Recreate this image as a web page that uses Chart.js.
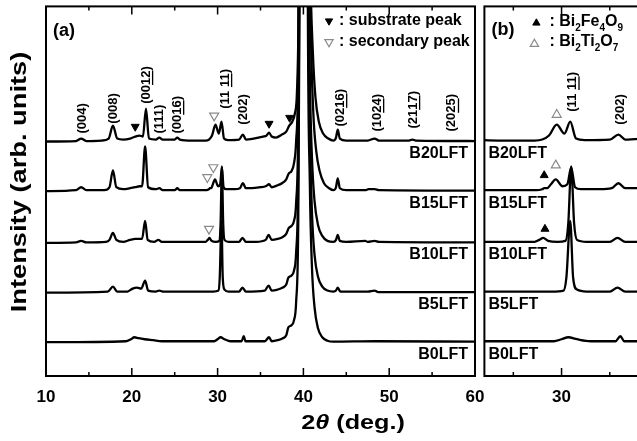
<!DOCTYPE html>
<html>
<head>
<meta charset="utf-8">
<script src="https://cdn.jsdelivr.net/npm/chart.js@4.4.1/dist/chart.umd.min.js"></script>
<style>
    html, body { margin: 0; padding: 0; background: #fff; overflow: hidden; }
    #wrap { position: relative; width: 637px; height: 441px; overflow: hidden; }
    #ca { position: absolute; left: 0; top: 0; }
    #cb { position: absolute; left: 478px; top: 0; }
</style>
</head>
<body>
<div id="wrap">
    <canvas id="ca" width="500" height="441"></canvas>
    <canvas id="cb" width="240" height="441"></canvas>
</div>
<script>
/* ================== DATA ================== */
const samples = ["B20LFT", "B15LFT", "B10LFT", "B5LFT", "B0LFT"];
const offsets = [236, 186, 134, 84, 34];

// [2theta, intensity above own baseline]
const b20 = [[10,0],[13.5,0.5],[14.1,3],[14.7,0.5],[16.5,1],[17.3,3],[17.8,16],[18.3,3],[19,2],[19.8,3],[20.4,5],[20.9,6],[21.3,5],[21.65,33],[22.0,3],[22.8,2],[23.2,4],[23.6,2],[25.0,2],[25.3,4],[25.6,2],[27,1],[28.6,1],[29.0,2],[29.35,6],[29.75,17],[30.15,8],[30.45,20],[30.75,3],[31.2,1.5],[32.5,2],[32.95,7],[33.3,2],[34.2,3],[35.3,5],[35.7,6],[36.0,9],[36.3,5],[36.8,4],[37.5,7],[38.0,10],[38.35,16],[38.7,20],[39.0,28],[39.25,50],[39.45,140],[39.65,450],[39.9,1200],[40.3,1200],[40.55,400],[40.8,180],[41.1,90],[41.4,45],[41.8,20],[42.3,8],[42.9,3],[43.5,1],[43.8,4],[44.0,12],[44.25,3],[45,1],[47.5,1],[48.3,3],[48.8,1],[52.3,1],[52.7,2],[53.1,1],[60,0.5]];
const b15 = [[10,0],[13.5,1],[14.1,4],[14.7,1],[16.8,1],[17.4,4],[17.8,21],[18.2,4],[19,2],[19.8,3],[20.4,4],[20.9,5],[21.2,5],[21.55,45],[21.9,4],[22.8,2],[23.2,3],[23.6,1],[25.0,1],[25.3,3],[25.6,1],[27,1],[28.7,1],[29.0,2],[29.1,3],[29.25,3],[29.45,7],[29.7,12],[30.05,5],[30.3,7],[30.5,24],[30.7,4],[31.0,2],[32,2],[32.6,3],[32.95,8],[33.3,3],[34,3],[35,4],[35.6,5],[36.0,7],[36.3,4],[37,6],[37.5,8],[38.0,12],[38.3,18],[38.6,20],[38.9,28],[39.15,50],[39.4,130],[39.6,450],[39.85,1200],[40.3,1200],[40.55,420],[40.85,170],[41.15,80],[41.5,40],[41.9,20],[42.4,8],[43.0,3],[43.5,1],[43.8,4],[44.0,13],[44.25,3],[45,1],[47.2,1],[47.6,2],[48.3,2],[48.8,1],[60,0.5]];
const b10 = [[10,0],[13.5,0.5],[14.1,2],[14.7,0.5],[17.0,1],[17.4,3],[17.8,10],[18.2,3],[19,1],[19.8,3],[20.4,4],[20.9,4],[21.2,4],[21.55,22],[21.85,3],[22.6,1],[23.1,3],[23.5,1],[25.3,1],[28.6,1],[28.85,3],[29.05,5],[29.3,2],[29.8,1],[30.2,2],[30.35,20],[30.5,77],[30.65,20],[30.8,3],[31.3,1],[32.5,1],[32.9,5],[33.3,1],[34.5,1],[35.6,3],[35.95,8],[36.3,3],[37,4],[37.6,6],[38.0,9],[38.3,15],[38.6,17],[38.9,22],[39.15,40],[39.4,120],[39.6,420],[39.85,1200],[40.3,1200],[40.5,400],[40.75,170],[41.0,85],[41.3,42],[41.7,18],[42.2,7],[42.8,2],[43.5,1],[43.8,3],[44.0,8],[44.25,2],[45,1],[47.2,2],[47.5,1],[48.3,2],[48.8,1],[60,0.5]];
const b5 = [[10,0],[17.2,1],[17.8,6],[18.3,1],[19.5,1],[20.1,4],[20.6,5],[21.1,4],[21.55,12],[21.9,2],[22.8,1],[23.2,2],[23.6,1],[29.5,1],[30.1,2],[30.25,15],[30.45,72],[30.6,15],[30.8,3],[31.3,1],[32.5,1],[32.9,5],[33.3,1],[35.5,2],[35.95,7],[36.3,2],[37,3],[37.6,5],[38.0,8],[38.25,15],[38.6,17],[38.9,22],[39.15,40],[39.4,120],[39.6,420],[39.85,1200],[40.3,1200],[40.5,400],[40.75,170],[41.0,80],[41.3,38],[41.7,16],[42.2,6],[42.8,2],[43.5,1],[43.8,2],[44.0,5],[44.3,1],[47.5,1],[48.3,2],[48.7,0.5],[60,0.5]];
const b0 = [[10,0],[19.3,1],[19.9,3],[20.3,5],[20.8,4],[21.5,3],[22.5,2],[23.5,1],[29.6,1],[30.0,3],[30.35,5],[30.8,3],[31.5,1],[32.8,1],[33.05,6],[33.25,1],[35.5,1],[36.0,5],[36.3,1],[37.0,2],[37.6,4],[38.0,7],[38.25,15],[38.6,17],[38.9,22],[39.15,40],[39.4,120],[39.6,420],[39.85,1200],[40.3,1200],[40.5,380],[40.75,160],[41.0,75],[41.3,35],[41.7,14],[42.2,5],[42.8,1.5],[43.5,0.5],[48.3,1],[60,0.5]];
const traces = [b20, b15, b10, b5, b0];

// x ticks
const ticksA = [10, 20, 30, 40, 50, 60];
const minorA = [15, 25, 35, 45, 55];
const ticksB = [30, 35];
const minorB = [27.5, 32.5];

// peak markers (2theta, height on the plot)
const subX = [20.4, 36.0, 38.4],        subY = [251, 254, 260];
const secX = [29.6, 29.5, 28.8, 29.0],  secY = [262, 210, 200, 148];
const bfoX = [29.1, 29.14],             bfoY = [202, 148];
const btoX = [29.75, 29.7],             btoY = [263, 212];

// hkl labels, "|" marks the underlined part
const hklA  = ["(004)", "(008)", "(00|12|)", "(111)", "(00|16|)", "(11 |11|)", "(202)", "(02|16|)", "(10|24|)", "(21|17|)", "(20|25|)"];
const hklAx = [14.2, 17.8, 21.65, 23.2, 25.27, 30.86, 32.96, 44.27, 48.58, 52.77, 57.3];
const hklAy = [244, 254, 274, 244, 244, 269, 253, 251, 246, 249, 246];
const hklB  = ["(11 |11|)", "(202)"];
const hklBx = [30.56, 33.03];
const hklBy = [266, 253];

/* ================== HELPERS ================== */
const FONT = '"Liberation Sans", Arial, Helvetica, sans-serif';

function traceSets() {
    return traces.map((t, i) => ({
        data: t.map(p => ({ x: p[0], y: p[1] + offsets[i] })),
        showLine: true,
        borderColor: "#000",
        borderWidth: 2.3,
        pointRadius: 0,
        cubicInterpolationMode: "monotone",
        fill: false
    }));
}

function markerSet(xs, ys, rot, filled) {
    return {
        data: xs.map((v, i) => ({ x: v, y: ys[i] })),
        showLine: false,
        pointStyle: "triangle",
        rotation: rot,
        pointRadius: filled ? 4.6 : 5.2,
        pointBackgroundColor: filled ? "#000" : "rgba(0,0,0,0)",
        pointBorderColor: filled ? "#000" : "#8a8a8a",
        pointBorderWidth: filled ? 1 : 1.2
    };
}

function frame(chart, major, minor) {
    const { ctx, chartArea: a } = chart;
    const x = chart.scales.x;
    ctx.save();
    ctx.strokeStyle = "#000";
    ctx.lineWidth = 2;
    ctx.strokeRect(a.left, a.top, a.right - a.left, a.bottom - a.top);
    ctx.lineWidth = 1.5;
    const tick = (v, len) => {
        const px = x.getPixelForValue(v);
        ctx.beginPath();
        ctx.moveTo(px, a.bottom); ctx.lineTo(px, a.bottom - len);
        ctx.moveTo(px, a.top); ctx.lineTo(px, a.top + len);
        ctx.stroke();
    };
    major.forEach(v => tick(v, 8));
    minor.forEach(v => tick(v, 4));
    ctx.restore();
}

function label(ctx, s, x, y, size, align) {
    ctx.font = "bold " + size + "px " + FONT;
    ctx.fillStyle = "#000";
    ctx.textAlign = align || "left";
    ctx.textBaseline = "middle";
    ctx.fillText(s, x, y);
}

// parts: [text, italic]; drawn centred, stretched along the text
function stretched(ctx, parts, cx, cy, size, sx, rot) {
    ctx.save();
    ctx.translate(cx, cy);
    ctx.rotate(rot);
    ctx.scale(sx, 1);
    ctx.fillStyle = "#000";
    ctx.textBaseline = "middle";
    ctx.textAlign = "left";
    let w = 0;
    parts.forEach(p => { ctx.font = (p[1] ? "italic " : "") + "bold " + size + "px " + FONT; w += ctx.measureText(p[0]).width; });
    let px = -w / 2;
    parts.forEach(p => {
        ctx.font = (p[1] ? "italic " : "") + "bold " + size + "px " + FONT;
        ctx.fillText(p[0], px, 0);
        px += ctx.measureText(p[0]).width;
    });
    ctx.restore();
}

function hkl(ctx, text, px, py) {
    const parts = text.split("|");
    ctx.save();
    ctx.translate(px, py);
    ctx.rotate(-Math.PI / 2);
    ctx.font = "bold 13px " + FONT;
    ctx.fillStyle = "#000";
    ctx.textBaseline = "middle";
    ctx.textAlign = "left";
    let cx = 0;
    parts.forEach((p, i) => {
        ctx.fillText(p, cx, 0);
        const w = ctx.measureText(p).width;
        if (i === 1) ctx.fillRect(cx, 6, w, 1.3);
        cx += w;
    });
    ctx.restore();
}

function formula(ctx, parts, x, y) {
    ctx.fillStyle = "#000";
    ctx.textAlign = "left";
    ctx.textBaseline = "middle";
    let cx = x;
    parts.forEach((p, i) => {
        const sub = i % 2 === 1;
        ctx.font = "bold " + (sub ? 10 : 16) + "px " + FONT;
        ctx.fillText(p, cx, sub ? y + 6 : y);
        cx += ctx.measureText(p).width;
    });
}

function tri(ctx, x, y, rot, filled) {
    ctx.save();
    ctx.fillStyle = filled ? "#000" : "rgba(0,0,0,0)";
    ctx.strokeStyle = filled ? "#000" : "#8a8a8a";
    ctx.lineWidth = filled ? 1 : 1.2;
    Chart.helpers.drawPoint(ctx, { pointStyle: "triangle", rotation: rot, radius: filled ? 4.2 : 4.8, borderWidth: ctx.lineWidth }, x, y);
    ctx.restore();
}

function xAxis(min, max, ticks) {
    return {
        type: "linear", min: min, max: max,
        afterBuildTicks: s => { s.ticks = ticks.map(v => ({ value: v })); },
        afterFit: s => { s.height = 65; s.paddingLeft = 0; s.paddingRight = 0; },
        grid: { display: false, drawTicks: false },
        border: { display: false },
        ticks: { color: "#000", padding: 11, maxRotation: 0, autoSkip: false, font: { family: FONT, size: 17, weight: "bold" } }
    };
}

function baseOptions(min, max, ticks, pad) {
    return {
        responsive: false,
        animation: false,
        events: [],
        layout: { padding: pad },
        plugins: { legend: { display: false }, tooltip: { enabled: false } },
        scales: { x: xAxis(min, max, ticks), y: { display: false, min: 0, max: 372 } }
    };
}

/* ================== PANEL (a) ================== */
const panelA = {
    id: "panelA",
    afterDraw(chart) {
        const { ctx, chartArea: a } = chart;
        const x = chart.scales.x, y = chart.scales.y;
        frame(chart, ticksA, minorA);
        stretched(ctx, [["Intensity (arb. units)", false]], 20, 182, 22, 1.24, -Math.PI / 2);
        stretched(ctx, [["2", false], ["\u03B8", true], [" (deg.)", false]], 353, 423, 21, 1.2, 0);
        label(ctx, "(a)", a.left + 7, 31, 18);
        tri(ctx, a.right - 146, 21, 180, true);
        label(ctx, ": substrate peak", a.right - 136, 21, 16);
        tri(ctx, a.right - 146, 42, 180, false);
        label(ctx, ": secondary peak", a.right - 136, 42, 16);
        hklA.forEach((t, i) => hkl(ctx, t, x.getPixelForValue(hklAx[i]), y.getPixelForValue(hklAy[i])));
        samples.forEach((s, i) => label(ctx, s, a.right - 7, y.getPixelForValue(offsets[i]) + 12, 16, "right"));
    }
};

new Chart(document.getElementById("ca"), {
    type: "scatter",
    data: { datasets: [markerSet(subX, subY, 180, true), markerSet(secX, secY, 180, false), ...traceSets()] },
    options: baseOptions(10, 60, ticksA, { left: 46, right: 25, top: 4, bottom: 0 }),
    plugins: [panelA]
});

/* ================== PANEL (b) ================== */
const panelB = {
    id: "panelB",
    afterDraw(chart) {
        const { ctx, chartArea: a } = chart;
        const x = chart.scales.x, y = chart.scales.y;
        frame(chart, ticksB, minorB);
        label(ctx, "(b)", a.left + 7, 30, 18);
        tri(ctx, a.left + 52, 23, 0, true);
        formula(ctx, [": Bi", "2", "Fe", "4", "O", "9"], a.left + 65, 22);
        tri(ctx, a.left + 50, 44, 0, false);
        formula(ctx, [": Bi", "2", "Ti", "2", "O", "7"], a.left + 65, 42);
        hklB.forEach((t, i) => hkl(ctx, t, x.getPixelForValue(hklBx[i]), y.getPixelForValue(hklBy[i])));
        samples.forEach((s, i) => label(ctx, s, a.left + 4, y.getPixelForValue(offsets[i]) + 12, 16, "left"));
    }
};

new Chart(document.getElementById("cb"), {
    type: "scatter",
    data: { datasets: [markerSet(bfoX, bfoY, 0, true), markerSet(btoX, btoY, 0, false), ...traceSets()] },
    options: baseOptions(26, 35, ticksB, { left: 2, right: 60, top: 4, bottom: 0 }),
    plugins: [panelB]
});
</script>
</body>
</html>
